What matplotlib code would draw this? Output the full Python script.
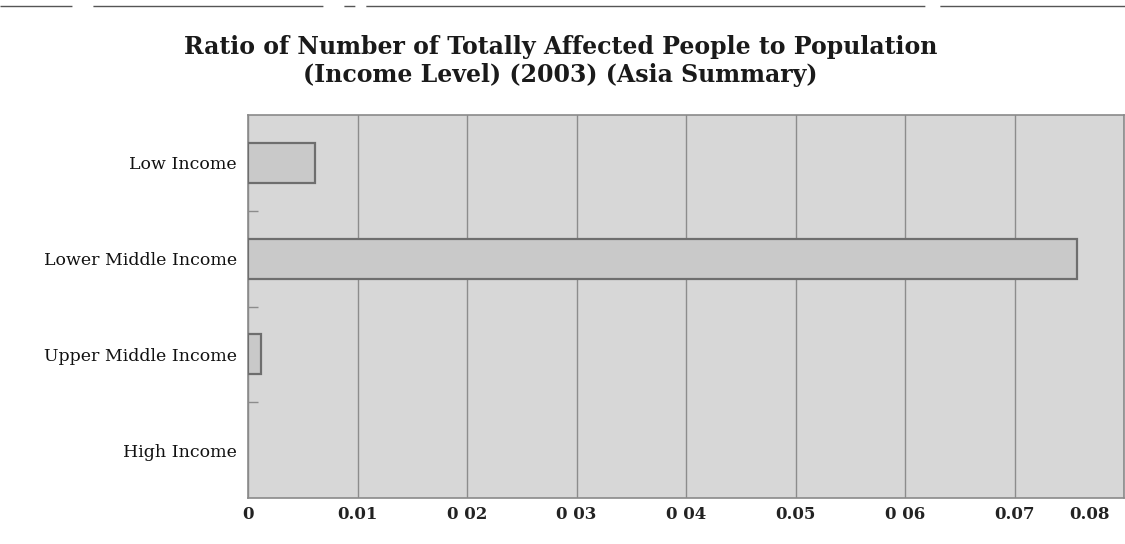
import matplotlib
matplotlib.use("Agg")
import matplotlib.pyplot as plt
from matplotlib.lines import Line2D
import matplotlib.transforms as mtransforms

categories = ["Low Income", "Lower Middle Income", "Upper Middle Income", "High Income"]
values = [0.0061, 0.0757, 0.0012, 0.0]
xticks = [0, 0.01, 0.02, 0.03, 0.04, 0.05, 0.06, 0.07, 0.08]
xticklabels = ["0", "0.01", "0 02", "0 03", "0 04", "0.05", "0 06", "0.07", "0.08"]
title = "Ratio of Number of Totally Affected People to Population\n(Income Level) (2003) (Asia Summary)"

serif = ["DejaVu Serif"]

fig = plt.figure(figsize=(11.25, 5.44), dpi=100)
ax = fig.add_axes([248 / 1125, 46 / 544, 876 / 1125, 383 / 544])
ax.set_facecolor("#d7d7d7")

ypos = list(range(len(categories)))
edgecols = ["#6e6e6e" if v > 0 else "none" for v in values]
ax.barh(ypos, values, height=0.42, color="#c9c9c9", edgecolor=edgecols, linewidth=1.6, zorder=3)
ax.set_ylim(len(categories) - 0.5, -0.5)
ax.set_xlim(0, 0.08)

ax.set_xticks(xticks)
ax.set_xticklabels(xticklabels, fontfamily=serif, fontsize=12, fontweight="bold", color="#222222")
ax.tick_params(axis="x", length=0, pad=6)
ax.grid(axis="x", color="#8c8c8c", linewidth=1.0, zorder=1)
# keep the last tick label inside the picture
last = ax.get_xticklabels()[-1]
last.set_horizontalalignment("right")
last.set_transform(last.get_transform() + mtransforms.ScaledTranslation(-14 / 100, 0, fig.dpi_scale_trans))

ax.set_yticks(ypos)
ax.set_yticklabels(categories, fontfamily=serif, fontsize=12.5, color="#111111")
ax.tick_params(axis="y", which="major", length=0, pad=8)
ax.set_yticks([0.5, 1.5, 2.5], minor=True)
ax.tick_params(axis="y", which="minor", direction="in", length=7, width=1.0, color="#8c8c8c")

for s in ax.spines.values():
    s.set_color("#8a8a8a")
    s.set_linewidth(1.2)

fig.text(0.498, 0.888, title, ha="center", va="center", fontfamily=serif,
         fontsize=17, fontweight="bold", color="#1a1a1a", linespacing=1.2)

# scanned dashed rule at the top
fig.add_artist(Line2D([0.0, 1.0], [0.989, 0.989], transform=fig.transFigure,
                      color="#555555", linewidth=1.0,
                      linestyle=(0, (51.8, 15.1, 165.6, 15.1, 7.9, 7.9, 402.5, 10.8, 140))))

fig.savefig("out.png", dpi=100)
